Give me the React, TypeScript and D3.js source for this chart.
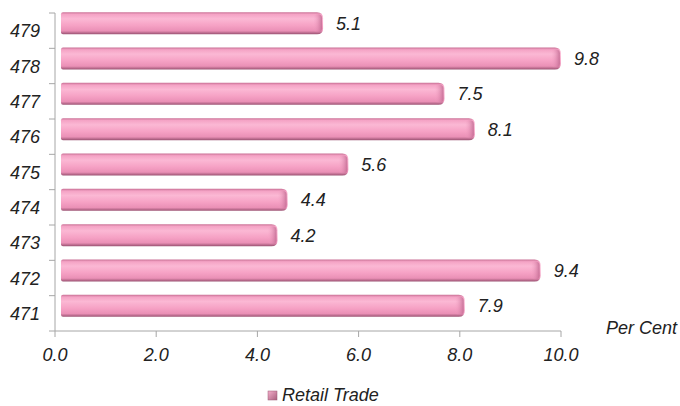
import React from "react";
import * as d3 from "d3";

const categories = ["479", "478", "477", "476", "475", "474", "473", "472", "471"];
const values = [5.1, 9.8, 7.5, 8.1, 5.6, 4.4, 4.2, 9.4, 7.9];
const xTicks = [0, 2, 4, 6, 8, 10];
const seriesName = "Retail Trade";
const axisTitle = "Per Cent";

export default function App() {
  const W = 680, H = 406;
  const left = 55, right = 561, top = 13, bottom = 331;
  const x = d3.scaleLinear().domain([0, 10]).range([left, right]);
  const y = d3.scaleBand().domain(categories).range([top, bottom]);
  const bw = y.bandwidth();
  const bh = 22;
  const dx0 = 6, dx1 = 10, dy = -7.5;
  const font = "'Liberation Sans', Arial, sans-serif";
  const fs = 18;
  return (
    <svg width={W} height={H} style={{ position: "absolute", left: 0, top: 0 }}>
      <defs>
        <linearGradient id="barg" x1="0" y1="0" x2="0" y2="1">
          <stop offset="0" stopColor="#c97095" />
          <stop offset="0.1" stopColor="#f4a3c5" />
          <stop offset="0.3" stopColor="#fbb8d4" />
          <stop offset="0.6" stopColor="#f6a2c5" />
          <stop offset="0.85" stopColor="#ea90b6" />
          <stop offset="1" stopColor="#9a5272" />
        </linearGradient>
        <linearGradient id="endg" x1="0" y1="0" x2="1" y2="0">
          <stop offset="0" stopColor="#f6a4c6" stopOpacity="0" />
          <stop offset="1" stopColor="#c06890" stopOpacity="0.85" />
        </linearGradient>
        <linearGradient id="legg" x1="0" y1="0" x2="1" y2="1">
          <stop offset="0" stopColor="#f5b0cc" />
          <stop offset="1" stopColor="#a8607e" />
        </linearGradient>
      </defs>
      <rect width={W} height={H} fill="#fff" />
      <line x1={left} x2={left} y1={top} y2={bottom} stroke="#a6a6a6" strokeWidth={1} />
      <line x1={left} x2={right} y1={bottom} y2={bottom} stroke="#a6a6a6" strokeWidth={1} />
      {d3.range(categories.length + 1).map((i) => {
        const yy = top + i * bw;
        return <line key={"yt" + i} x1={left - 6} x2={left} y1={yy} y2={yy} stroke="#a6a6a6" />;
      })}
      {xTicks.map((t) => (
        <g key={"xt" + t}>
          <line x1={x(t)} x2={x(t)} y1={bottom} y2={bottom + 6} stroke="#a6a6a6" />
          <text x={x(t)} y={bottom + 30} textAnchor="middle" fontFamily={font} fontStyle="italic" fontSize={fs} fill="#222">
            {t.toFixed(1)}
          </text>
        </g>
      ))}
      {categories.map((c, i) => {
        const cy = y(c)! + bw / 2;
        const yy = cy + dy - bh / 2;
        const x0 = x(0) + dx0;
        const x1 = x(values[i]) + dx1;
        const r = 6;
        const path = `M${x0 + 2},${yy} H${x1 - r} Q${x1},${yy} ${x1},${yy + r} V${yy + bh - r} Q${x1},${yy + bh} ${x1 - r},${yy + bh} H${x0 + 2} Q${x0},${yy + bh} ${x0},${yy + bh - 2} V${yy + 2} Q${x0},${yy} ${x0 + 2},${yy} Z`;
        return (
          <g key={c}>
            <path d={path} fill="url(#barg)" />
            <rect x={x1 - 10} y={yy + 2} width={9} height={bh - 4} fill="url(#endg)" rx={4} />
            <text x={40} y={cy + 6.5} textAnchor="end" fontFamily={font} fontStyle="italic" fontSize={fs} fill="#222">
              {c}
            </text>
            <text x={x1 + 13} y={cy + dy + 6.5} fontFamily={font} fontStyle="italic" fontSize={fs} fill="#222">
              {values[i].toFixed(1)}
            </text>
          </g>
        );
      })}
      <text x={677} y={334} textAnchor="end" fontFamily={font} fontStyle="italic" fontSize={fs} fill="#222">
        {axisTitle}
      </text>
      <rect x={268} y={391} width={9} height={9} fill="url(#legg)" stroke="#9a5a75" strokeWidth={0.5} />
      <text x={282} y={401} fontFamily={font} fontStyle="italic" fontSize={fs} fill="#222">
        {seriesName}
      </text>
    </svg>
  );
}
